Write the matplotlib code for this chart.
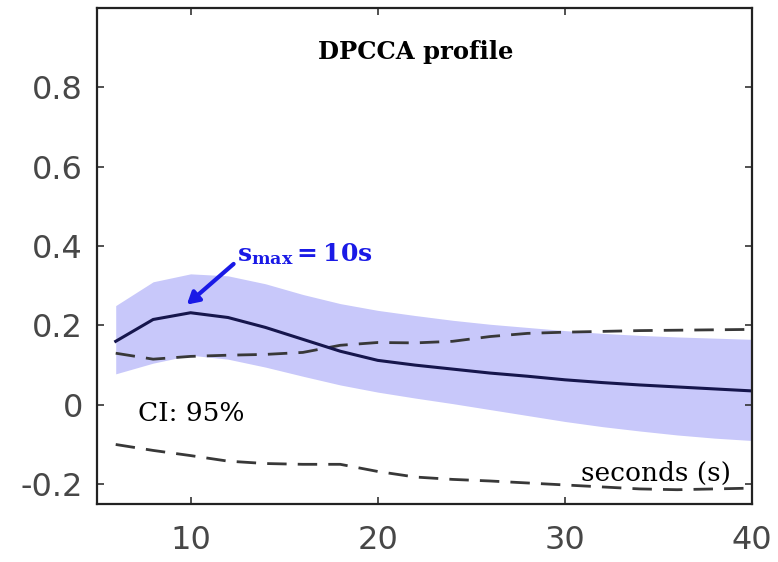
import numpy as np
import matplotlib
matplotlib.use('Agg')
import matplotlib.pyplot as plt

plt.rcParams['mathtext.fontset'] = 'dejavuserif'

#scales (s)
scales = [6, 8, 10, 12, 14, 16, 18, 20, 22, 24, 26, 28, 30, 32, 34, 36, 38, 40]

#DPCCA coefficient and its 95% band
dpcca = [0.160, 0.215, 0.232, 0.220, 0.195, 0.165, 0.135, 0.112, 0.100, 0.090,
         0.080, 0.072, 0.063, 0.056, 0.050, 0.045, 0.040, 0.035]
band_upper = [0.250, 0.310, 0.330, 0.325, 0.305, 0.278, 0.255, 0.238, 0.225, 0.213,
              0.203, 0.195, 0.187, 0.180, 0.175, 0.171, 0.168, 0.165]
band_lower = [0.078, 0.105, 0.125, 0.115, 0.095, 0.072, 0.050, 0.032, 0.017, 0.003,
              -0.012, -0.027, -0.042, -0.055, -0.066, -0.076, -0.084, -0.090]

#null confidence limits
null_upper = [0.130, 0.115, 0.122, 0.125, 0.127, 0.132, 0.150, 0.157, 0.156, 0.160,
              0.172, 0.180, 0.183, 0.185, 0.187, 0.188, 0.189, 0.190]
null_lower = [-0.100, -0.115, -0.128, -0.142, -0.148, -0.150, -0.150, -0.168, -0.182, -0.188,
              -0.192, -0.197, -0.202, -0.207, -0.212, -0.214, -0.212, -0.210]

s_max = 10

fig = plt.figure(figsize=(7.78, 5.62), dpi=100)
ax = fig.add_axes([97/778, 1-504/562, 655/778, 496/562])

ax.fill_between(scales, band_lower, band_upper, color='#c8c8fa', linewidth=0)
ax.plot(scales, null_upper, color='#383838', lw=2, dashes=(7, 4))
ax.plot(scales, null_lower, color='#383838', lw=2, dashes=(7, 4))
ax.plot(scales, dpcca, color='#16164c', lw=2.2)

ax.set_xlim(5, 40)
ax.set_ylim(-0.25, 1.0)
ax.set_xticks([10, 20, 30, 40])
ax.set_yticks([-0.2, 0, 0.2, 0.4, 0.6, 0.8])
ax.set_yticklabels(['-0.2', '0', '0.2', '0.4', '0.6', '0.8'])

ax.tick_params(direction='in', length=5, width=1.2, top=True, right=True,
               labelsize=23, labelcolor='#474747', color='#333333', pad=10)
ax.tick_params(axis='x', pad=15)
for sp in ax.spines.values():
    sp.set_linewidth(1.6)
    sp.set_color('#222222')

serif = ['DejaVu Serif']
ax.text(0.487, 0.912, 'DPCCA profile', transform=ax.transAxes, ha='center', va='center',
        fontsize=17.5, fontweight='bold', family=serif)
ax.text(7.2, -0.022, 'CI: 95%', ha='left', va='center', fontsize=19, family=serif)
ax.text(38.9, -0.172, 'seconds (s)', ha='right', va='center', fontsize=19, family=serif)

#arrow to the maximum
ax.annotate('', xy=(9.8, 0.2525), xytext=(12.3, 0.355),
            arrowprops=dict(arrowstyle='-|>,head_length=0.7,head_width=0.4',
                            color='#1a1ae6', lw=3, shrinkA=0, shrinkB=0))
ax.text(12.5, 0.38, r'$\mathbf{s_{max} = %d s}$' % s_max,
        fontsize=18, color='#1a1ae6', ha='left', va='center')

fig.savefig('out.png', dpi=100)
